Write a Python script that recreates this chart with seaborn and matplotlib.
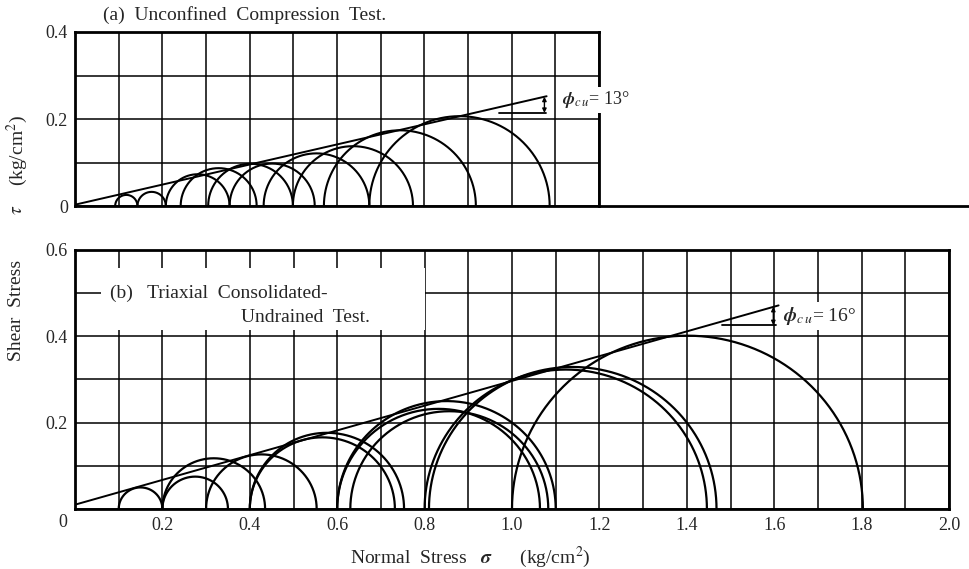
import numpy as np
import pandas as pd
import matplotlib
matplotlib.use("Agg")
import matplotlib.pyplot as plt
from matplotlib.lines import Line2D
from matplotlib.patches import Rectangle
from matplotlib.ticker import MultipleLocator
import seaborn as sns

# ---------------------------------------------------------------
# Mohr circles: minor (sigma3) and major (sigma1) principal stress, kg/cm2
# ---------------------------------------------------------------
# (a) Unconfined compression test
a_sigma3 = [0.092, 0.143, 0.208, 0.242, 0.305, 0.354, 0.432, 0.499, 0.570, 0.674]
a_sigma1 = [0.143, 0.208, 0.354, 0.416, 0.499, 0.549, 0.674, 0.774, 0.918, 1.087]
a_cohesion = 0.003
a_phi_deg = 13
a_env_end = 1.08

# (b) Triaxial consolidated-undrained test
b_sigma3 = [0.10, 0.20, 0.20, 0.30, 0.40, 0.40, 0.60, 0.60, 0.63, 0.80, 0.81, 1.00]
b_sigma1 = [0.20, 0.35, 0.435, 0.553, 0.732, 0.753, 1.064, 1.100, 1.083, 1.446, 1.468, 1.803]
b_cohesion = 0.010
b_phi_deg = 16
b_env_end = 1.61

# axis ticks and labels
x_ticks = [0.2, 0.4, 0.6, 0.8, 1.0, 1.2, 1.4, 1.6, 1.8, 2.0]
x_tick_labels = ["0.2", "0.4", "0.6", "0.8", "1.0", "1.2", "1.4", "1.6", "1.8", "2.0"]
a_y_ticks = [0.0, 0.2, 0.4]
a_y_tick_labels = ["0", "0.2", "0.4"]
b_y_ticks = [0.2, 0.4, 0.6]
b_y_tick_labels = ["0.2", "0.4", "0.6"]

sns.set_theme(style="white")
plt.rcParams["font.family"] = ["Liberation Serif", "DejaVu Serif"]
plt.rcParams["mathtext.fontset"] = "stix"

W, H = 969, 569
fig = plt.figure(figsize=(W / 100, H / 100), dpi=100)
fig.patch.set_facecolor("white")


def fx(px):
    return px / W


def fy(py):
    return 1 - py / H


def circles_frame(s3, s1):
    parts = []
    for i, (lo, hi) in enumerate(zip(s3, s1)):
        c = (lo + hi) / 2
        r = (hi - lo) / 2
        t = np.linspace(np.pi, 0, 241)
        parts.append(pd.DataFrame({"sigma": c + r * np.cos(t),
                                   "tau": r * np.sin(t),
                                   "circle": i}))
    return pd.concat(parts, ignore_index=True)


def envelope_frame(c, phi, end):
    xs = np.array([0.0, end])
    return pd.DataFrame({"sigma": xs, "tau": c + xs * np.tan(np.radians(phi))})


def style_axes(ax, xmax, ymax):
    ax.set_xlim(0, xmax)
    ax.set_ylim(0, ymax)
    ax.xaxis.set_minor_locator(MultipleLocator(0.1))
    ax.yaxis.set_minor_locator(MultipleLocator(0.1))
    ax.grid(which="both", color="black", linewidth=1.1)
    ax.set_axisbelow(True)
    ax.tick_params(which="both", length=0)
    for sp in ax.spines.values():
        sp.set_color("black")
        sp.set_linewidth(2.0)
    ax.set_xlabel("")
    ax.set_ylabel("")


TICK_FS = 13
TEXT_FS = 14

# ---------------- panel (a) ----------------
ax_a = fig.add_axes([fx(75), fy(206), fx(599) - fx(75), fy(32) - fy(206)])
sns.lineplot(data=circles_frame(a_sigma3, a_sigma1), x="sigma", y="tau",
             units="circle", estimator=None, sort=False, color="black",
             linewidth=1.5, ax=ax_a)
sns.lineplot(data=envelope_frame(a_cohesion, a_phi_deg, a_env_end), x="sigma", y="tau",
             estimator=None, sort=False, color="black", linewidth=1.4, ax=ax_a)
style_axes(ax_a, 1.2, 0.4)
ax_a.set_xticks(np.arange(0, 1.21, 0.2))
ax_a.set_xticklabels([])
ax_a.set_yticks(a_y_ticks)
ax_a.set_yticklabels(a_y_tick_labels, fontsize=TICK_FS)
ax_a.tick_params(axis="y", pad=5)

# friction angle marker (a)
a_top = a_cohesion + 1.075 * np.tan(np.radians(a_phi_deg))
ax_a.plot([0.97, 1.078], [0.214, 0.214], color="black", lw=1.3)
ax_a.annotate("", xy=(1.075, a_top), xytext=(1.075, 0.214),
              arrowprops=dict(arrowstyle="<|-|>", color="black", lw=1.0,
                              mutation_scale=6, shrinkA=0, shrinkB=0))
ax_a.text(1.115, 0.244, r"$\boldsymbol{\phi}_{c\,u}$= 13°", fontsize=13,
          ha="left", va="center", clip_on=False, zorder=6,
          bbox=dict(facecolor="white", edgecolor="none", pad=1.5))

# baseline of panel (a) runs on to the right edge
fig.add_artist(Line2D([fx(599), 1.0], [fy(206), fy(206)], color="black", lw=2.0))

fig.text(fx(103), fy(15), "(a)  Unconfined  Compression  Test.", fontsize=TEXT_FS,
         ha="left", va="center")

# ---------------- panel (b) ----------------
ax_b = fig.add_axes([fx(75), fy(509), fx(949) - fx(75), fy(250) - fy(509)])
sns.lineplot(data=circles_frame(b_sigma3, b_sigma1), x="sigma", y="tau",
             units="circle", estimator=None, sort=False, color="black",
             linewidth=1.6, ax=ax_b)
sns.lineplot(data=envelope_frame(b_cohesion, b_phi_deg, b_env_end), x="sigma", y="tau",
             estimator=None, sort=False, color="black", linewidth=1.4, ax=ax_b)
style_axes(ax_b, 2.0, 0.6)
ax_b.set_xticks(x_ticks)
ax_b.set_xticklabels(x_tick_labels, fontsize=TICK_FS)
ax_b.set_yticks(b_y_ticks)
ax_b.set_yticklabels(b_y_tick_labels, fontsize=TICK_FS)
ax_b.tick_params(axis="x", pad=6)
ax_b.tick_params(axis="y", pad=5)
ax_b.text(-0.028, -0.032, "0", fontsize=TICK_FS, ha="center", va="center",
          clip_on=False)

# white panel behind the caption of (b)
ax_b.add_patch(Rectangle((0.06, 0.414), 0.74, 0.145, facecolor="white",
                         edgecolor="none", zorder=1))
ax_b.text(0.08, 0.5, "(b)   Triaxial  Consolidated-", fontsize=TEXT_FS,
          ha="left", va="center", zorder=3)
ax_b.text(0.379, 0.443, "Undrained  Test.", fontsize=TEXT_FS,
          ha="left", va="center", zorder=3)

# friction angle marker (b)
b_top = b_cohesion + 1.598 * np.tan(np.radians(b_phi_deg))
ax_b.plot([1.48, 1.605], [0.426, 0.426], color="black", lw=1.3)
ax_b.annotate("", xy=(1.598, b_top), xytext=(1.598, 0.426),
              arrowprops=dict(arrowstyle="<|-|>", color="black", lw=1.0,
                              mutation_scale=6, shrinkA=0, shrinkB=0))
ax_b.text(1.62, 0.447, r"$\boldsymbol{\phi}_{c\,u}$= 16°", fontsize=14,
          ha="left", va="center", zorder=6,
          bbox=dict(facecolor="white", edgecolor="none", pad=2))

# axis titles
fig.text(fx(470), fy(557), r"Normal  Stress   $\boldsymbol{\sigma}$      (kg/cm$^2$)",
         fontsize=TEXT_FS, ha="center", va="center")
fig.text(fx(17), fy(310), "Shear  Stress", fontsize=TEXT_FS, rotation=90,
         ha="center", va="center")
fig.text(fx(17), fy(210), r"$\tau$", fontsize=TEXT_FS, rotation=90,
         ha="center", va="center")
fig.text(fx(17), fy(150), r"(kg/cm$^2$)", fontsize=TEXT_FS, rotation=90,
         ha="center", va="center")

fig.savefig("out.png", dpi=100, facecolor="white")
